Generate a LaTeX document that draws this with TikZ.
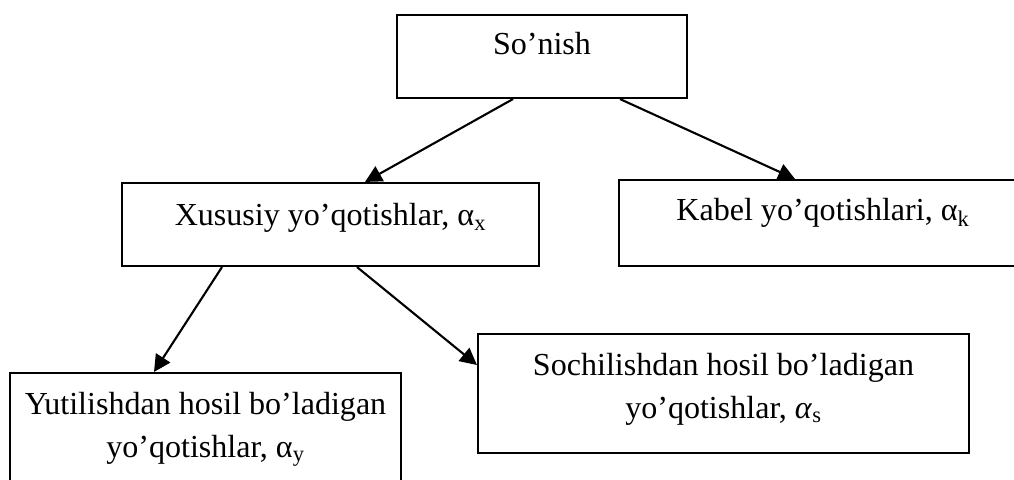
\documentclass[tikz,border=0pt]{standalone}
\usepackage{fontspec}
\setmainfont{Liberation Serif}
\usetikzlibrary{arrows.meta}

\begin{document}
\begin{tikzpicture}[
  box/.style={rectangle, draw, line width=1.5pt, inner sep=0pt, align=flush center,
              font=\fontsize{22.8}{30.6}\selectfont},
  arrow/.style={-{Triangle[length=0.42cm, width=0.42cm]}, line width=1.5pt}
]
  \useasboundingbox (0, 0) rectangle (25.35, 11.975);
  \clip (0, 0) rectangle (25.35, 11.975);

  \node[box, text width=7.25cm,  text height=1.0cm,   text depth=1.075cm] (sonish)    at (13.55, 10.5625)  {So’nish};
  \node[box, text width=10.425cm, text height=1.075cm, text depth=1.0cm]  (xususiy)   at (8.2625, 6.3625)  {Xususiy yo’qotishlar, α\textsubscript{x}};
  \node[box, text width=10.2cm,  text height=1.025cm, text depth=1.125cm] (kabel)     at (20.575, 6.4)     {Kabel yo’qotishlari, α\textsubscript{k}};
  \node[box, text width=9.775cm, text height=1.025cm, text depth=1.95cm]  (yutilish)  at (5.1375, 1.1625)  {Yutilishdan hosil bo’ladigan\\yo’qotishlar, α\textsubscript{y}};
  \node[box, text width=12.275cm, text height=1.025cm, text depth=1.95cm] (sochilish) at (18.0875, 2.1375) {Sochilishdan hosil bo’ladigan\\yo’qotishlar, \textit{α}\textsubscript{s}};

  \draw[arrow] ([xshift=-0.725cm]sonish.south)   -- ([xshift=0.8625cm]xususiy.north);
  \draw[arrow] ([xshift=1.95cm]sonish.south)     -- ([xshift=-0.7cm]kabel.north);
  \draw[arrow] ([xshift=-2.7125cm]xususiy.south) -- ([xshift=-1.2875cm]yutilish.north);
  \draw[arrow] ([xshift=0.6625cm]xususiy.south)  -- ([yshift=0.7125cm]sochilish.west);

\end{tikzpicture}
\end{document}
